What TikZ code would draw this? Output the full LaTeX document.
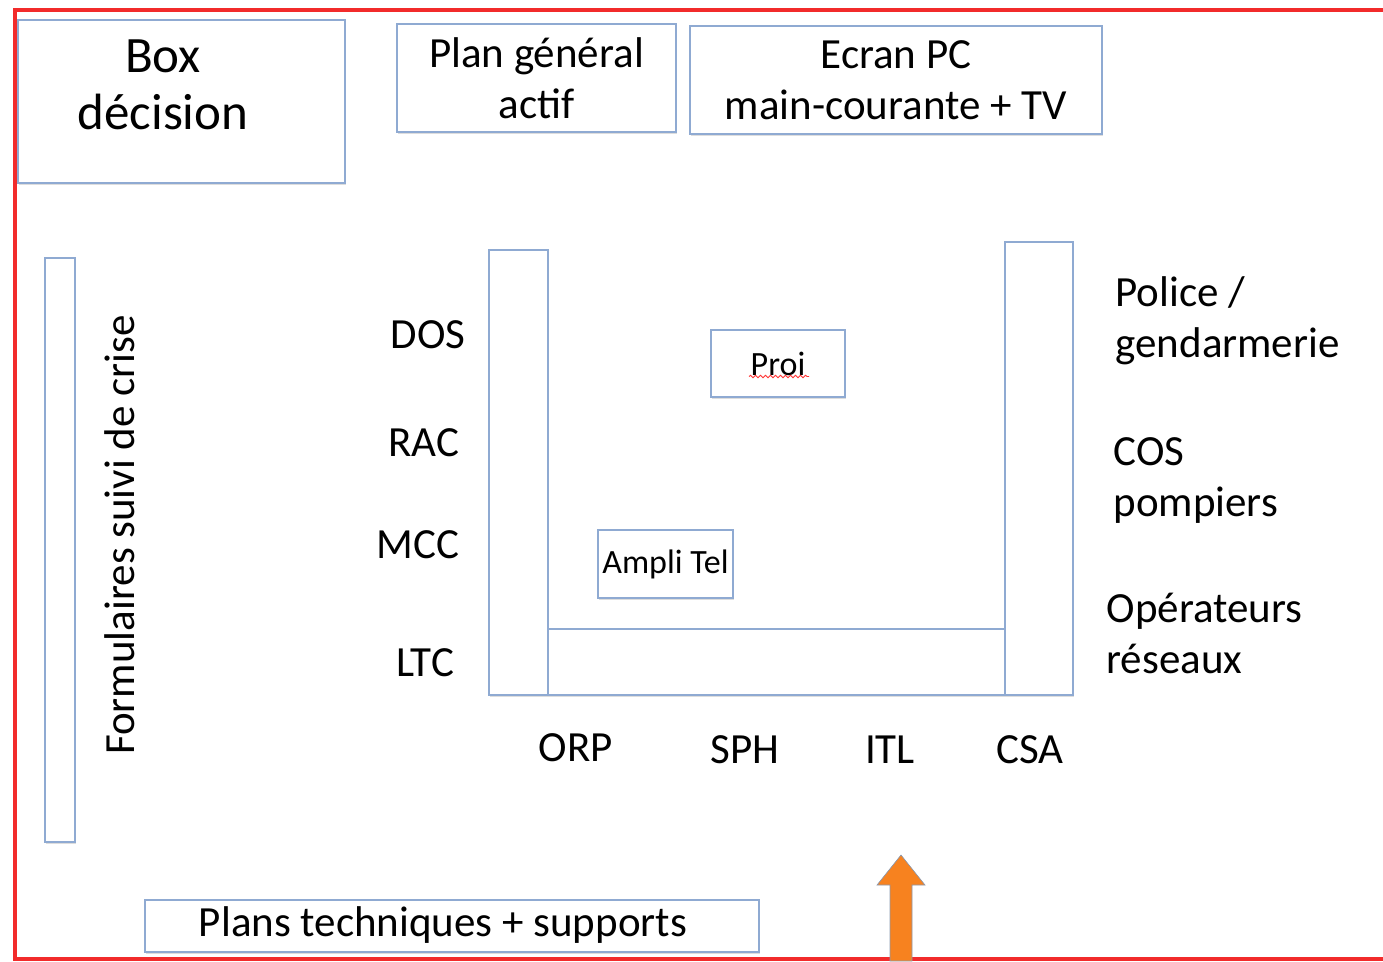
\documentclass[tikz,border=0pt]{standalone}
\usepackage{fontspec}
\setmainfont{Carlito}
\usepackage{tikz}
\usetikzlibrary{shadows,decorations.pathmorphing}
\definecolor{frame}{HTML}{8FAAD2}
\definecolor{border}{HTML}{F22B2B}
\definecolor{orangearr}{HTML}{F7821F}
\tikzset{
  box/.style={draw=frame, line width=1.8pt, fill=white, inner sep=0pt,
    drop shadow={shadow xshift=1.2pt, shadow yshift=-1.8pt, fill=black!22, opacity=0.6}},
  lab/.style={text=black, font=\fontsize{43}{51}\selectfont, align=center},
  labl/.style={text=black, font=\fontsize{43}{51}\selectfont, align=left, anchor=west},
  labs/.style={text=black, font=\fontsize{34}{40}\selectfont},
  big/.style={text=black, font=\fontsize{51}{57}\selectfont, align=center},
}
\begin{document}
\begin{tikzpicture}[x=1pt, y=-1pt]
\useasboundingbox (0,0) rectangle (1383,961);
\fill[white] (0,0) rectangle (1383,961);

% red outline of the room
\draw[border, line width=4pt] (1383,10) -- (15,10) -- (15,959) -- (1383,959);

% top boxes
\node[box, minimum width=327pt, minimum height=163pt] (decision) at (181.5,101.5) {};
\node[big] (decisiont) at (163,85) {Box\\décision};
\node[box, lab, minimum width=279pt, minimum height=108pt] (plan) at (536.5,78) {Plan général\\actif};
\node[box, lab, minimum width=412pt, minimum height=108pt] (ecran) at (896,80) {Ecran PC\\main-courante + TV};

% left column
\node[box, minimum width=30pt, minimum height=584pt] (formbar) at (60,550) {};
\node[lab, rotate=90] (form) at (120,535) {Formulaires suivi de crise};

% table
\node[box, minimum width=59pt, minimum height=445pt] (left) at (518.5,472.5) {};
\node[box, minimum width=68pt, minimum height=453pt] (right) at (1039,468.5) {};
\node[box, minimum width=457pt, minimum height=66pt] (bottom) at (776.5,662) {};
\node[box, labs, minimum width=134pt, minimum height=67pt] (proi) at (778,363.5) {Proi};
\draw[red!80, line width=0.9pt, decorate, decoration={snake, amplitude=1.2pt, segment length=5pt}]
  ([xshift=-29pt, yshift=-13pt]proi.center) -- ([xshift=31pt, yshift=-13pt]proi.center);
\node[box, labs, minimum width=135pt, minimum height=68pt] (ampli) at (665.5,564) {Ampli Tel};

\foreach \n/\t/\x/\y in {dos/DOS/428/335, rac/RAC/424/443, mcc/MCC/418/545, ltc/LTC/425/663,
  orp/ORP/576/748, sph/SPH/745/750, itl/ITL/890/750, csa/CSA/1030/750}{
  \node[lab] (\n) at (\x,\y) {\t};
}

\node[labl] (police) at (1112,321) {Police /\\gendarmerie};
\node[labl] (cos) at (1110,481) {COS\\pompiers};
\node[labl] (oper) at (1103,633) {Opérateurs\\réseaux};

% bottom
\node[box, minimum width=614pt, minimum height=52pt] (plans) at (452,926) {};
\node[lab] (planst) at (443,925) {Plans techniques + supports};

\fill[orangearr, draw=frame!60!gray, line width=0.6pt]
  (890,961) -- (890,885) -- (877,885) -- (901,855) -- (925,885) -- (912,885) -- (912,961) -- cycle;
\end{tikzpicture}
\end{document}
